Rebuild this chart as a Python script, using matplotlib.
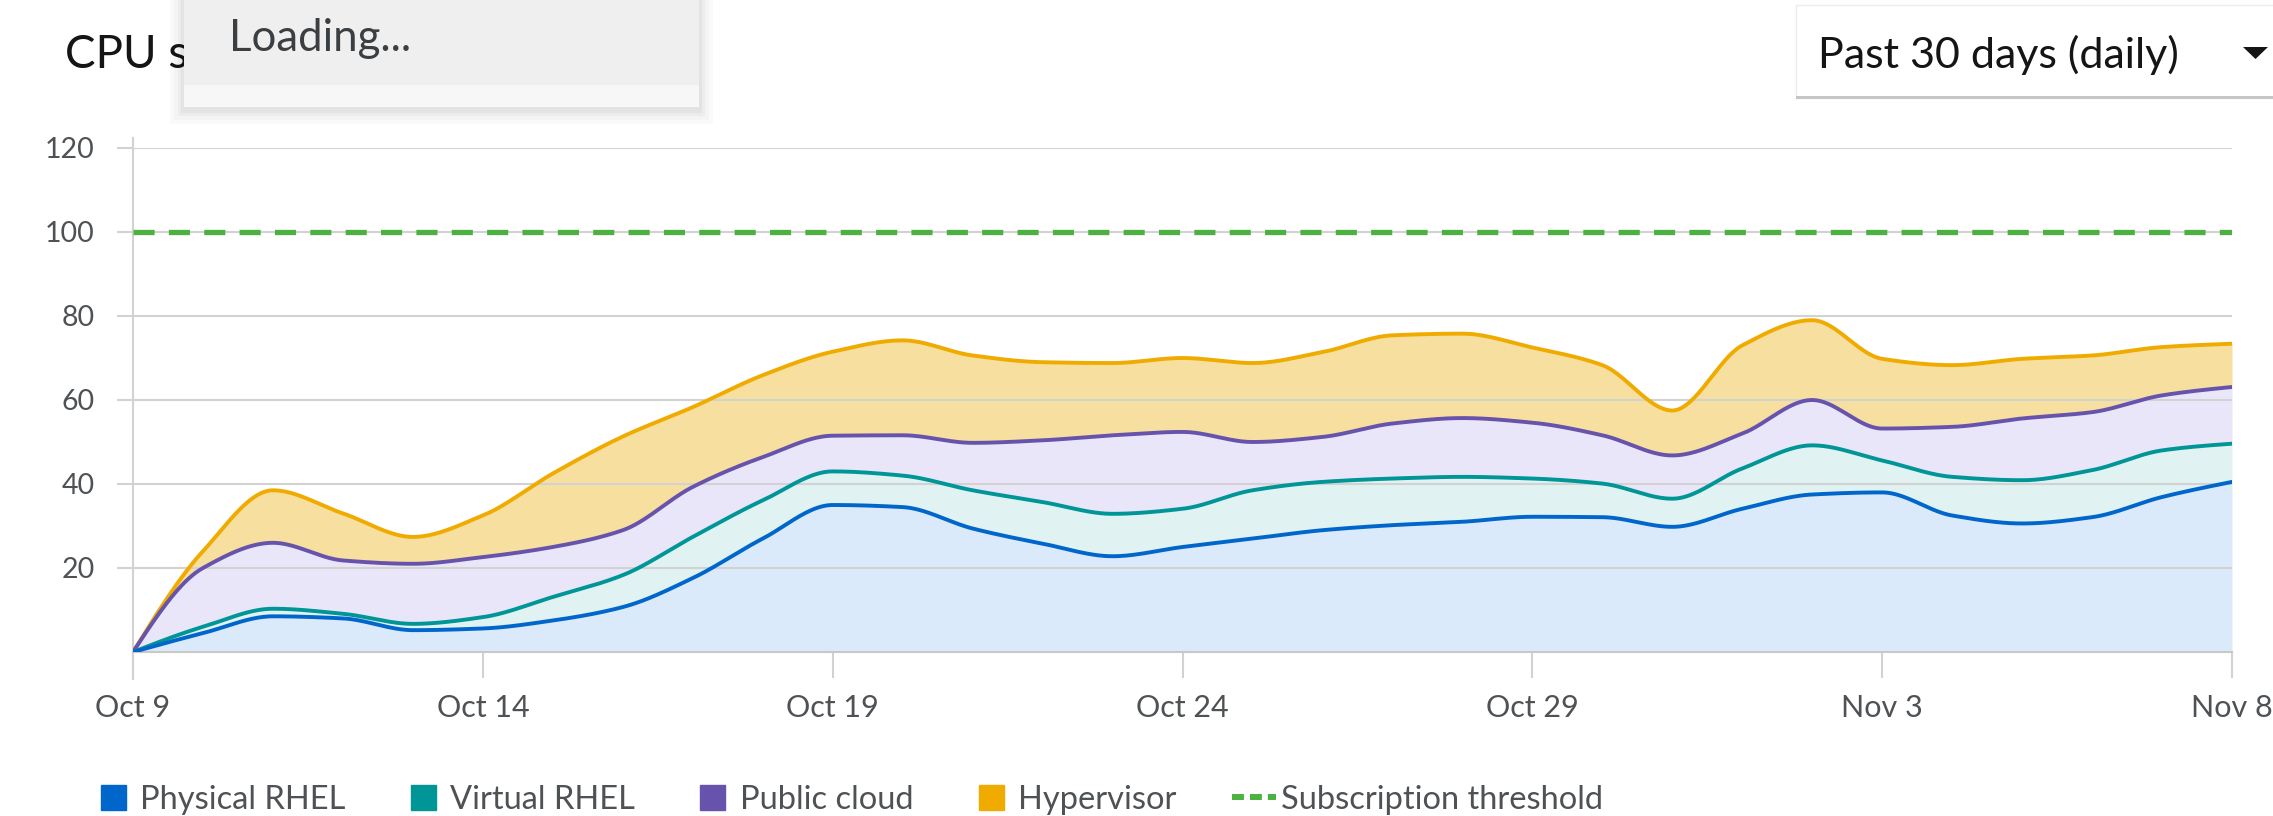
import matplotlib
matplotlib.use("Agg")
import matplotlib.pyplot as plt
from matplotlib.lines import Line2D
from matplotlib.patches import Rectangle, Polygon
import numpy as np

plt.rcParams["font.family"] = ["Lato", "DejaVu Sans"]

# daily points, Oct 9 .. Nov 8
days = np.arange(31)
tick_days = [0, 5, 10, 15, 20, 25, 30]
tick_labels = ["Oct 9", "Oct 14", "Oct 19", "Oct 24", "Oct 29", "Nov 3", "Nov 8"]
y_ticks = [20, 40, 60, 80, 100, 120]
threshold = 100

physical = [0, 4.5, 8.5, 8.0, 5.2, 5.6, 7.5, 10.7, 17.6, 27.0, 35.0, 34.5, 29.4, 25.8, 22.8, 25.0,
            27.0, 29.0, 30.2, 31.0, 32.2, 32.1, 29.8, 34.1, 37.5, 38.0, 32.5, 30.6, 32.1, 36.9, 40.5]
virtual = [0, 1.5, 1.8, 1.1, 1.5, 2.7, 5.6, 7.6, 9.8, 9.1, 8.0, 7.5, 9.1, 9.9, 10.1, 9.1,
           11.5, 11.5, 11.1, 10.7, 9.1, 8.0, 6.7, 9.6, 11.7, 7.6, 9.2, 10.3, 11.2, 11.1, 9.1]
public = [0, 14.0, 15.7, 12.7, 14.3, 14.3, 11.9, 10.7, 11.9, 10.3, 8.5, 9.6, 11.3, 14.7, 18.7, 18.3,
          11.5, 10.7, 13.1, 14.0, 13.3, 11.5, 10.3, 8.3, 10.8, 7.6, 11.9, 14.7, 13.8, 13.1, 13.5]
hypervisor = [0, 4.0, 12.5, 11.2, 6.4, 9.9, 17.5, 22.3, 19.0, 19.5, 20.0, 22.6, 20.8, 18.6, 17.2, 17.6,
              18.8, 20.2, 21.0, 20.1, 17.9, 16.7, 10.7, 21.0, 19.0, 16.6, 14.7, 14.2, 13.5, 11.5, 10.3]

names = ["Physical RHEL", "Virtual RHEL", "Public cloud", "Hypervisor"]
line_colors = ["#0066cc", "#009596", "#6753ac", "#f0ab00"]
fill_colors = ["#dbeafa", "#e0f2f2", "#e8e6f8", "#f7dfa0"]
green = "#4cb140"


def monotone(x, y, xs):
    # monotone cubic curve through the points, like the chart's smooth lines
    x = np.asarray(x, float)
    y = np.asarray(y, float)
    h = np.diff(x)
    d = np.diff(y) / h
    m = np.zeros_like(y)
    for k in range(1, len(y) - 1):
        if d[k - 1] * d[k] > 0:
            w1 = 2 * h[k] + h[k - 1]
            w2 = h[k] + 2 * h[k - 1]
            m[k] = (w1 + w2) / (w1 / d[k - 1] + w2 / d[k])
    m[0] = (3 * d[0] - m[1]) / 2
    m[-1] = (3 * d[-1] - m[-2]) / 2
    i = np.clip(np.searchsorted(x, xs) - 1, 0, len(x) - 2)
    t = (xs - x[i]) / h[i]
    h00 = 2 * t**3 - 3 * t**2 + 1
    h10 = t**3 - 2 * t**2 + t
    h01 = -2 * t**3 + 3 * t**2
    h11 = t**3 - t**2
    return h00 * y[i] + h10 * h[i] * m[i] + h01 * y[i + 1] + h11 * h[i] * m[i + 1]


W, H = 2273, 816


def fx(px):
    return px / W


def fy(py):
    return 1 - py / H


fig = plt.figure(figsize=(W / 100, H / 100), dpi=100)
ax = fig.add_axes([fx(133), fy(652), 2099 / W, 504 / H])

tops = np.cumsum([physical, virtual, public, hypervisor], axis=0)
xs = np.linspace(0, 30, 1201)
smooth = [monotone(days, t, xs) for t in tops]
for k in range(1, 4):
    smooth[k] = np.maximum(smooth[k], smooth[k - 1])

bottom = np.zeros_like(xs)
for k in range(4):
    ax.fill_between(xs, bottom, smooth[k], color=fill_colors[k], lw=0, zorder=1)
    bottom = smooth[k]
for k in [3, 2, 1, 0]:
    ax.plot(xs, smooth[k], color=line_colors[k], lw=2.8, zorder=3, solid_capstyle="round")

ax.axhline(threshold, color=green, lw=3.8, dashes=(4, 2.7), zorder=3)

ax.set_xlim(0, 30)
ax.set_ylim(0, 120)
ax.set_xticks(tick_days, tick_labels)
ax.set_yticks(y_ticks)
ax.grid(axis="y", color="#d2d2d2", lw=1.5)
for s in ["top", "right"]:
    ax.spines[s].set_visible(False)
ax.spines["left"].set_color("#d2d2d2")
ax.spines["left"].set_linewidth(1.5)
ax.spines["left"].set_bounds(-6.4, 122.4)
ax.spines["bottom"].set_color("#c8c8c8")
ax.spines["bottom"].set_linewidth(1.5)
ax.tick_params(axis="x", length=19, width=1.5, color="#d2d2d2", pad=11,
               labelsize=22, labelcolor="#4f5255")
ax.tick_params(axis="y", length=11.5, width=1.5, color="#d2d2d2", pad=16,
               labelsize=20.5, labelcolor="#4f5255")

# header: title, loading menu, range selector
fig.text(fx(65), fy(68), "CPU s", fontsize=33, color="#151515", va="baseline", zorder=2)
for grow, a in [(14, 0.02), (10, 0.025), (6, 0.03), (3, 0.035)]:
    fig.add_artist(Rectangle((fx(184 - grow), fy(110 + grow)), (515 + 2 * grow) / W,
                             (110 + grow) / H, transform=fig.transFigure,
                             color="black", alpha=a, lw=0, zorder=4))
fig.add_artist(Rectangle((fx(184), fy(107)), 515 / W, 107 / H, transform=fig.transFigure,
                         color="#f7f7f7", lw=0, zorder=5))
fig.add_artist(Rectangle((fx(184), fy(85)), 515 / W, 85 / H, transform=fig.transFigure,
                         color="#efefef", lw=0, zorder=5))
fig.text(fx(229), fy(51), "Loading...", fontsize=31.5, color="#3c3f42", va="baseline", zorder=6)

fig.add_artist(Rectangle((fx(1796), fy(98)), 500 / W, 93 / H, transform=fig.transFigure,
                         facecolor="white", edgecolor="#ececec", lw=1, zorder=4))
fig.add_artist(Rectangle((fx(1796), fy(99)), 500 / W, 3 / H, transform=fig.transFigure,
                         color="#c4c6c8", lw=0, zorder=5))
fig.text(fx(1818), fy(68), "Past 30 days (daily)", fontsize=31, color="#151515",
         va="baseline", zorder=6)
fig.add_artist(Polygon([(fx(2243), fy(47)), (fx(2268), fy(47)), (fx(2255.5), fy(59))],
                       closed=True, transform=fig.transFigure, color="#151515", lw=0, zorder=6))

handles = [Line2D([], [], marker="s", ls="none", markersize=18, color=c) for c in line_colors]
handles.append(Line2D([], [], color=green, lw=4.3, dashes=(2, 1)))
fig.legend(handles, names + ["Subscription threshold"], loc="center left",
           bbox_to_anchor=(fx(90.5), fy(800)), ncol=5, frameon=False, fontsize=23.5,
           handlelength=1.35, handleheight=0.77, handletextpad=0.17, columnspacing=1.69,
           borderpad=0, borderaxespad=0, labelcolor="#4f5255")

fig.savefig("out.png", dpi=100)
